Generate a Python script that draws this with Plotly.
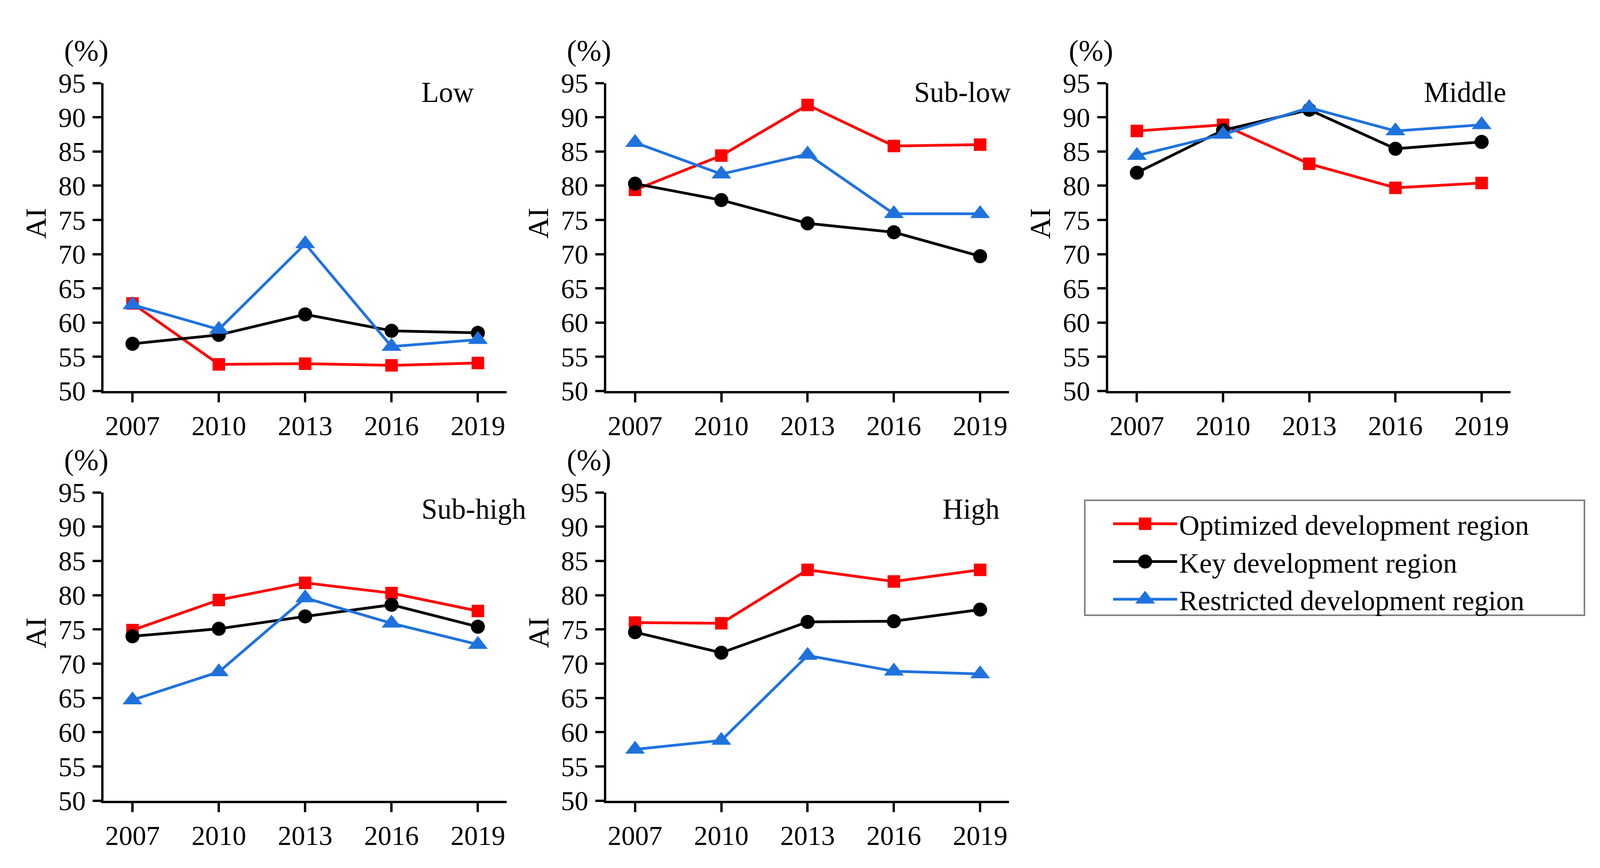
import plotly.graph_objects as go

# ---------------- data ----------------
years = [2007, 2010, 2013, 2016, 2019]
year_labels = ["2007", "2010", "2013", "2016", "2019"]
y_ticks = [50, 55, 60, 65, 70, 75, 80, 85, 90, 95]
panel_names = ["Low", "Sub-low", "Middle", "Sub-high", "High"]
series_names = ["Optimized development region", "Key development region",
                "Restricted development region"]

low_optimized = [62.8, 53.9, 54.0, 53.75, 54.1]
low_key = [56.9, 58.2, 61.2, 58.8, 58.5]
low_restricted = [62.6, 59.0, 71.5, 56.5, 57.5]

sublow_optimized = [79.4, 84.4, 91.8, 85.8, 86.0]
sublow_key = [80.3, 77.9, 74.5, 73.2, 69.7]
sublow_restricted = [86.3, 81.7, 84.6, 75.9, 75.9]

middle_optimized = [88.0, 88.9, 83.2, 79.7, 80.4]
middle_key = [81.9, 88.1, 91.1, 85.4, 86.4]
middle_restricted = [84.4, 87.5, 91.4, 88.0, 88.9]

subhigh_optimized = [74.9, 79.3, 81.8, 80.3, 77.7]
subhigh_key = [74.0, 75.1, 76.9, 78.6, 75.4]
subhigh_restricted = [64.7, 68.8, 79.6, 75.9, 72.8]

high_optimized = [76.0, 75.9, 83.7, 82.0, 83.7]
high_key = [74.6, 71.6, 76.1, 76.2, 77.9]
high_restricted = [57.5, 58.8, 71.2, 68.9, 68.5]

panel_data = [
    (low_optimized, low_key, low_restricted),
    (sublow_optimized, sublow_key, sublow_restricted),
    (middle_optimized, middle_key, middle_restricted),
    (subhigh_optimized, subhigh_key, subhigh_restricted),
    (high_optimized, high_key, high_restricted),
]

# ---------------- style ----------------
REF_W, H = 4320, 2222      # reference geometry (fractions are computed from it)
W = 4096                   # usable browser viewport width
SX = W / REF_W
FONT = "Liberation Serif"
colors = ["#FF0000", "#000000", "#1F72DE"]
symbols = ["square", "circle", "triangle-up"]
msizes = [32, 36, 44]

col_px = [(280, 1368), (1637, 2724), (2992, 4078)]
row_px = [(181, 998), (1267, 2085)]
panel_pos = [(0, 0), (0, 1), (0, 2), (1, 0), (1, 1)]
title_pos = [(0.787, 0.97), (0.763, 0.97), (0.783, 0.97), (0.787, 0.945), (0.833, 0.945)]

fig = go.Figure()
layout = dict(
    width=W, height=H,
    margin=dict(l=0, r=0, t=0, b=0),
    paper_bgcolor="white", plot_bgcolor="white",
    font=dict(family=FONT, size=70, color="black"),
    showlegend=True,
    legend=dict(
        x=3000 / REF_W, y=1 - 1295 / H, xanchor="left", yanchor="top",
        borderwidth=0, bgcolor="rgba(0,0,0,0)",
        font=dict(family=FONT, size=72, color="black"),
        itemwidth=round(173 * SX), tracegroupgap=0,
    ),
    shapes=[dict(
        type="rect", xref="paper", yref="paper",
        x0=2929 / REF_W, x1=4278 / REF_W, y0=1 - 1593 / H, y1=1 - 1288 / H,
        line=dict(color="#7F7F7F", width=4), fillcolor="rgba(0,0,0,0)", layer="below",
    )],
)
annotations = []

for i, (r, c) in enumerate(panel_pos):
    n = "" if i == 0 else str(i + 1)
    xa, ya = "x" + n, "y" + n
    x0, x1 = col_px[c]
    yt, yb = row_px[r]
    layout["xaxis" + n] = dict(
        domain=[x0 / REF_W, x1 / REF_W], range=[2006, 2020], anchor=ya,
        tickmode="array", tickvals=years, ticktext=year_labels,
        showline=True, linewidth=6, linecolor="black",
        ticks="outside", ticklen=23, tickwidth=6, tickcolor="black",
        showgrid=False, zeroline=False,
        tickfont=dict(family=FONT, size=70, color="black"),
        fixedrange=True,
    )
    layout["yaxis" + n] = dict(
        domain=[1 - yb / H, 1 - yt / H], range=[50, 95], anchor=xa,
        tickmode="array", tickvals=y_ticks,
        showline=True, linewidth=6, linecolor="black",
        ticks="outside", ticklen=22, tickwidth=6, tickcolor="black",
        showgrid=False, zeroline=False,
        tickfont=dict(family=FONT, size=70, color="black"),
        ticklabelstandoff=4,
        fixedrange=True,
    )
    for k in range(3):
        fig.add_trace(go.Scatter(
            x=years, y=panel_data[i][k], mode="lines+markers",
            name=series_names[k], legendgroup=series_names[k],
            showlegend=(i == 0),
            line=dict(color=colors[k], width=7),
            marker=dict(symbol=symbols[k], size=msizes[k], color=colors[k]),
            xaxis=xa, yaxis=ya, cliponaxis=False,
        ))
    annotations.append(dict(
        text="(%)", xref=xa + " domain", yref=ya + " domain", x=0, y=1,
        xanchor="center", yanchor="middle", xshift=round(-46 * SX), yshift=83,
        showarrow=False, font=dict(family=FONT, size=76, color="black"),
    ))
    annotations.append(dict(
        text="AI", xref=xa + " domain", yref=ya + " domain", x=0, y=0.5,
        xanchor="center", yanchor="middle", xshift=round(-184 * SX), yshift=35,
        textangle=-90, showarrow=False,
        font=dict(family=FONT, size=75, color="black"),
    ))
    tx, ty = title_pos[i]
    annotations.append(dict(
        text=panel_names[i], xref=xa + " domain", yref=ya + " domain",
        x=tx, y=ty, xanchor="left", yanchor="middle", showarrow=False,
        font=dict(family=FONT, size=73, color="black"),
    ))

layout["annotations"] = annotations
fig.update_layout(**layout)

# page setup (no body margin / scrollbars) and legend symbols at plotted marker size
legend_scales = [round(s / 16.0, 3) for s in msizes]
post_js = """
document.documentElement.style.margin = '0';
document.documentElement.style.overflow = 'hidden';
document.body.style.margin = '0';
document.body.style.overflow = 'hidden';
var gd = document.getElementById('{plot_id}');
var sc = %s;
gd.querySelectorAll('.legend .traces').forEach(function(t, i) {
  t.querySelectorAll('.legendpoints path.scatterpts').forEach(function(p) {
    var tr = (p.getAttribute('transform') || '').replace(/ ?scale\\([^)]*\\)/, '');
    p.setAttribute('transform', tr + ' scale(' + sc[i] + ')');
  });
});
""" % str(legend_scales)

fig.write_html("out.html", post_script=post_js,
               config={"displayModeBar": False, "staticPlot": True})
